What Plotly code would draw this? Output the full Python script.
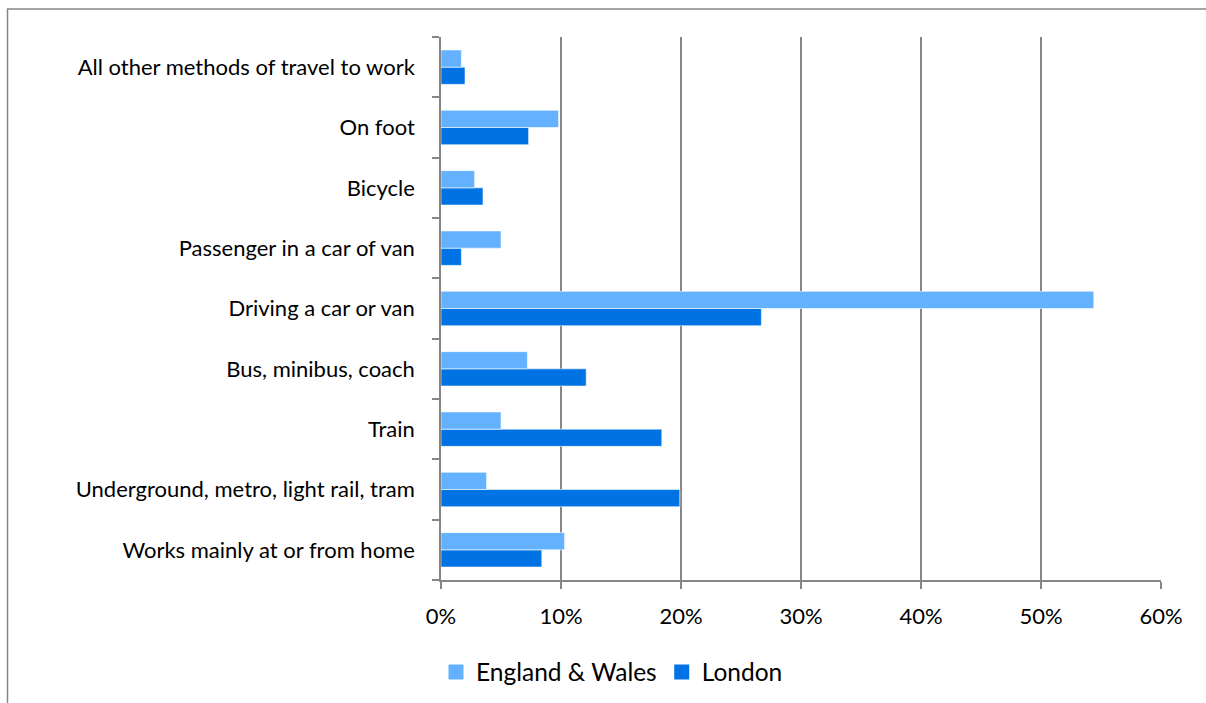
import plotly.graph_objects as go

# Method of travel to work, listed bottom to top
categories = [
    "Works mainly at or from home",
    "Underground, metro, light rail, tram",
    "Train",
    "Bus, minibus, coach",
    "Driving a car or van",
    "Passenger in a car of van",
    "Bicycle",
    "On foot",
    "All other methods of travel to work",
]

# Share of working residents, percent
england_wales = [10.3, 3.8, 5.0, 7.2, 54.4, 5.0, 2.8, 9.8, 1.7]
london = [8.4, 19.9, 18.4, 12.1, 26.7, 1.7, 3.5, 7.3, 2.0]

x_ticks = [0, 10, 20, 30, 40, 50, 60]
x_tick_labels = [f"{v}%" for v in x_ticks]

LIGHT = "#63B1FF"
DARK = "#0073E4"
GRID = "#868686"
FONT = "Lato, Carlito, Calibri, sans-serif"
EDGE = dict(color="rgba(255,255,255,0.55)", width=1)

fig = go.Figure()
fig.add_trace(go.Bar(
    y=categories, x=london, orientation="h", name="London",
    marker=dict(color=DARK, line=EDGE), showlegend=False,
))
fig.add_trace(go.Bar(
    y=categories, x=england_wales, orientation="h", name="England & Wales",
    marker=dict(color=LIGHT, line=EDGE), showlegend=False,
))

# legend keys drawn as larger square swatches
for name, color in [("England & Wales", LIGHT), ("London", DARK)]:
    fig.add_trace(go.Scatter(
        x=[None], y=[None], mode="markers", name=name,
        marker=dict(symbol="square", size=15, color=color),
        hoverinfo="skip",
    ))

W, H = 1206, 703
L, R, T, B = 441, 45, 37, 123
pw, ph = W - L - R, H - T - B

def px_x(px):
    return (px - L) / pw

def px_y(py):
    return (H - B - py) / ph

# outer frame: top and left edges of the chart area
frame_path = (
    f"M {px_x(7.5)},{px_y(H)} L {px_x(7.5)},{px_y(9)} L {px_x(W)},{px_y(9)}"
)

fig.update_layout(
    width=W, height=H,
    margin=dict(l=L, r=R, t=T, b=B, autoexpand=False),
    paper_bgcolor="white", plot_bgcolor="white",
    barmode="group", bargap=0.43, bargroupgap=0,
    font=dict(family=FONT, size=22, color="#000000"),
    showlegend=True,
    legend=dict(
        orientation="h", traceorder="normal",
        x=px_x(612), xanchor="center", y=px_y(672), yanchor="middle",
        font=dict(size=24.5), itemwidth=30, bgcolor="rgba(0,0,0,0)",
    ),
    xaxis=dict(
        range=[0, 60], tickvals=x_ticks, ticktext=x_tick_labels,
        showgrid=True, gridcolor=GRID, gridwidth=1.5,
        zeroline=False, showline=True, linecolor=GRID, linewidth=1.5,
        ticks="outside", ticklen=7, tickcolor=GRID, tickwidth=1.5,
        ticklabelstandoff=9, fixedrange=True,
    ),
    yaxis=dict(
        type="category", categoryorder="array", categoryarray=categories,
        showgrid=False, zeroline=False,
        showline=True, linecolor=GRID, linewidth=1.5,
        ticks="outside", tickson="boundaries", ticklen=7, tickcolor=GRID, tickwidth=1.5,
        ticklabelstandoff=20, fixedrange=True,
    ),
    shapes=[
        dict(type="path", xref="paper", yref="paper", path=frame_path,
             line=dict(color=GRID, width=1.5), fillcolor="rgba(0,0,0,0)"),
    ],
)

fig.write_html("out.html", config={"displayModeBar": False})
